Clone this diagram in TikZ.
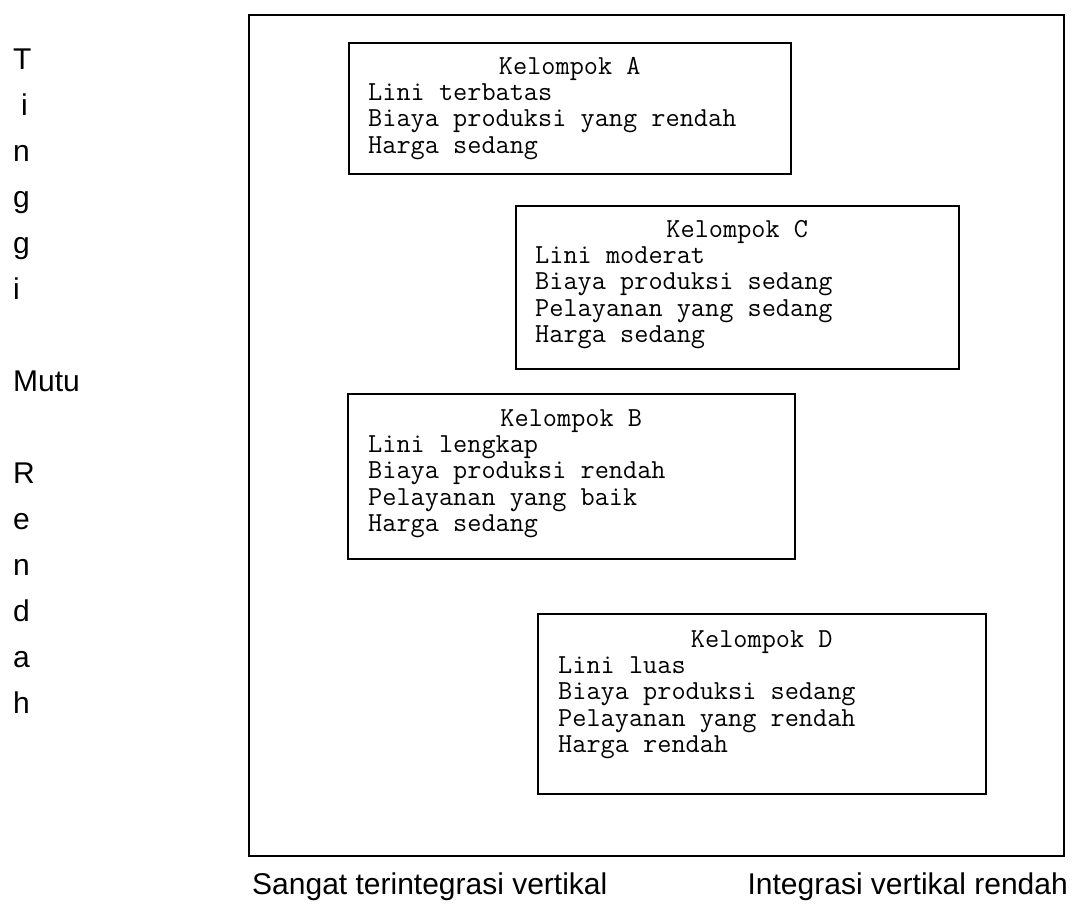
\documentclass[tikz,border=0pt]{standalone}
\usepackage{fontspec}
\setmainfont{Liberation Sans}
\usetikzlibrary{calc}
\begin{document}
\begin{tikzpicture}[x=1pt,y=-1pt,
  outerframe/.style={draw, line width=1.6pt, inner sep=0, anchor=north west},
  grpbox/.style={draw, line width=1.6pt, inner sep=0, anchor=north west},
  ttl/.style={font=\ttfamily\fontsize{27.5}{26.5}\selectfont, anchor=base, inner sep=0},
  itm/.style={font=\ttfamily\fontsize{27.5}{26.5}\selectfont, anchor=base west, inner sep=0},
  side/.style={font=\fontsize{30}{34}\selectfont, anchor=base west, inner sep=0},
]
\useasboundingbox (0,0) rectangle (1074,903);

% outer frame
\node[outerframe, minimum width=815pt, minimum height=841pt] (F) at (248,14) {};

% Group A
\node[grpbox, minimum width=442pt, minimum height=131pt] (A) at (348,42) {};
\node[ttl] (At) at ($(A.north)+(0,32)$) {Kelompok A};
\node[itm] (A1) at ($(A.north west)+(20,58)$) {Lini terbatas};
\node[itm] (A2) at ($(A.north west)+(20,84.5)$) {Biaya produksi yang rendah};
\node[itm] (A3) at ($(A.north west)+(20,111)$) {Harga sedang};

% Group C
\node[grpbox, minimum width=443pt, minimum height=163pt] (C) at (515,205) {};
\node[ttl] (Ct) at ($(C.north)+(0,32)$) {Kelompok C};
\node[itm] (C1) at ($(C.north west)+(20,58)$) {Lini moderat};
\node[itm] (C2) at ($(C.north west)+(20,84.5)$) {Biaya produksi sedang};
\node[itm] (C3) at ($(C.north west)+(20,111)$) {Pelayanan yang sedang};
\node[itm] (C4) at ($(C.north west)+(20,137.5)$) {Harga sedang};

% Group B
\node[grpbox, minimum width=447pt, minimum height=165pt] (B) at (347,393) {};
\node[ttl] (Bt) at ($(B.north)+(0,33)$) {Kelompok B};
\node[itm] (B1) at ($(B.north west)+(21,59)$) {Lini lengkap};
\node[itm] (B2) at ($(B.north west)+(21,85.5)$) {Biaya produksi rendah};
\node[itm] (B3) at ($(B.north west)+(21,112)$) {Pelayanan yang baik};
\node[itm] (B4) at ($(B.north west)+(21,138.5)$) {Harga sedang};

% Group D
\node[grpbox, minimum width=448pt, minimum height=180pt] (D) at (537,613) {};
\node[ttl] (Dt) at ($(D.north)+(0,34)$) {Kelompok D};
\node[itm] (D1) at ($(D.north west)+(21,60)$) {Lini luas};
\node[itm] (D2) at ($(D.north west)+(21,86.5)$) {Biaya produksi sedang};
\node[itm] (D3) at ($(D.north west)+(21,113)$) {Pelayanan yang rendah};
\node[itm] (D4) at ($(D.north west)+(21,139.5)$) {Harga rendah};

% vertical axis label
\node[side] (s1) at (13,69) {T};
\node[side] (s2) at (21,115) {i};
\node[side] (s3) at (13,161) {n};
\node[side] (s4) at (13,207) {g};
\node[side] (s5) at (13,253) {g};
\node[side] (s6) at (13,299) {i};
\node[side] (s7) at (13,391) {Mutu};
\node[side] (s8) at (13,483) {R};
\node[side] (s9) at (13,529) {e};
\node[side] (s10) at (13,575) {n};
\node[side] (s11) at (13,621) {d};
\node[side] (s12) at (13,667) {a};
\node[side] (s13) at (13,713) {h};

% horizontal axis labels
\node[side] (xl) at (252,894) {Sangat terintegrasi vertikal};
\node[side, anchor=base east] (xr) at (1068,894) {Integrasi vertikal rendah};
\end{tikzpicture}
\end{document}
